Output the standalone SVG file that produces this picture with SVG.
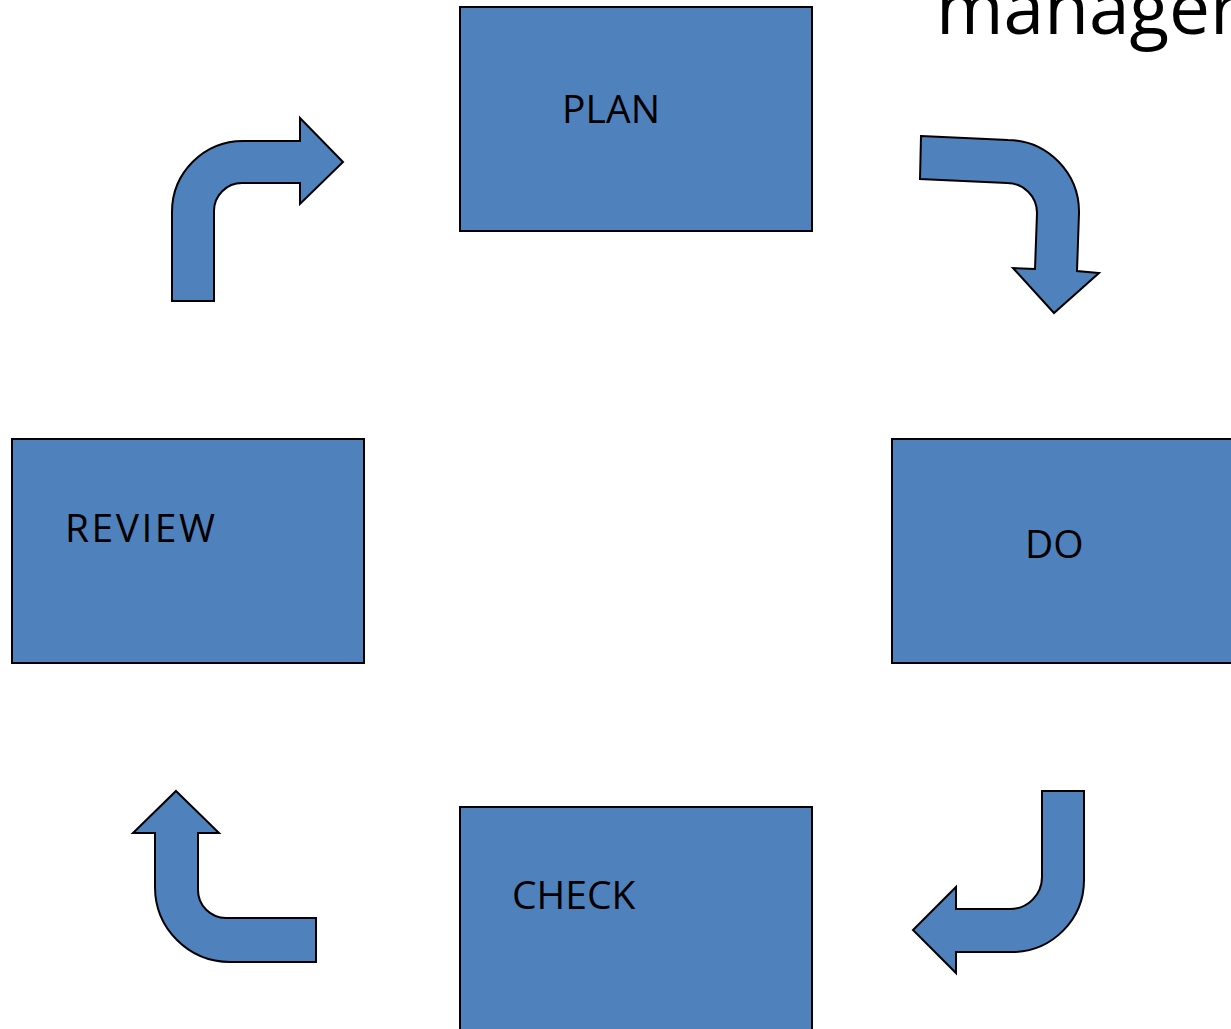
<svg xmlns="http://www.w3.org/2000/svg" width="1231" height="1029" viewBox="0 0 1231 1029">
<style>
.box{fill:#4F81BD;stroke:#000;stroke-width:2}
.arr{fill:#4F81BD;stroke:#000;stroke-width:2;stroke-linejoin:miter}
.lbl{font-family:"Open Sans","Noto Sans","Liberation Sans",sans-serif;font-size:39px;fill:#000}
.title{font-family:"Open Sans","Noto Sans","Liberation Sans",sans-serif;font-size:73px;fill:#000}
</style>
<rect width="1231" height="1029" fill="#fff"/>
<text class="title" x="936" y="34">manager</text>
<g id="plan">
<rect class="box" x="460" y="7" width="352" height="224"/>
<text class="lbl" x="562" y="123" textLength="98">PLAN</text>
</g>
<g id="do">
<rect class="box" x="892" y="439" width="352" height="224"/>
<text class="lbl" x="1025" y="558">DO</text>
</g>
<g id="check">
<rect class="box" x="460" y="807" width="352" height="240"/>
<text class="lbl" x="512" y="909">CHECK</text>
</g>
<g id="review">
<rect class="box" x="12" y="439" width="352" height="224"/>
<text class="lbl" x="65" y="542" textLength="150">REVIEW</text>
</g>
<g id="connectors">
<path class="arr" d="M172,301 L172,212 A71,71 0 0 1 243,141 L300,141 L300,118 L343,162 L300,204 L300,183 L242,183 A28,28 0 0 0 214,211 L214,301 Z"/>
<path class="arr" d="M921,136 L1008,140 A72,72 0 0 1 1079,213 L1077,271 L1099,273 L1054,313 L1013,268 L1035,269 L1037,213 A30,30 0 0 0 1007,183 L920,179 Z"/>
<path class="arr" d="M1042,791 L1084,791 L1084,880 A72,72 0 0 1 1012,952 L956,952 L956,973 L913,930 L956,887 L956,909 L1010,909 A32,32 0 0 0 1042,877 Z"/>
<path class="arr" d="M176,791 L219,833 L198,833 L198,890 A28,28 0 0 0 226,918 L316,918 L316,962 L230,962 A75,75 0 0 1 155,887 L155,833 L133,833 Z"/>
</g>
</svg>
